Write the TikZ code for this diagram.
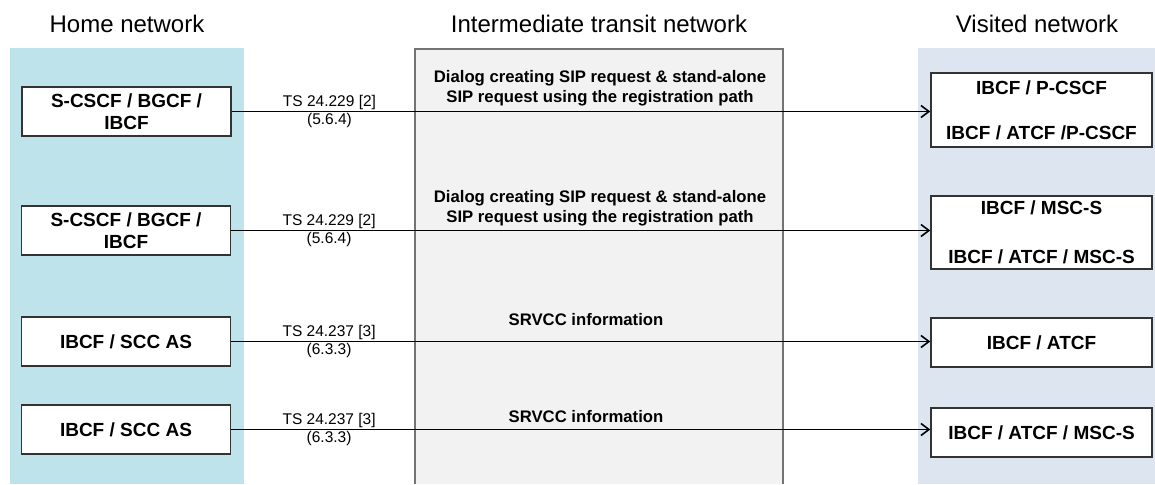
\documentclass[tikz,border=0pt]{standalone}
\usepackage{fontspec}
\setmainfont{Liberation Sans}
\usetikzlibrary{arrows.meta}

\definecolor{homeblue}{RGB}{190,227,235}
\definecolor{visitblue}{RGB}{221,229,240}
\definecolor{transgray}{RGB}{242,242,242}

\begin{document}
\begin{tikzpicture}[x=1pt,y=-1pt,>={Straight Barb[length=8pt,width=12pt]},
                line width=1.6pt,
                net node/.style={draw=black!80,line width=1.4pt,fill=white,align=center,
                  inner sep=0pt,font=\fontsize{19}{21.5}\selectfont\bfseries},
                home node/.style={net node,minimum width=209pt,minimum height=49pt},
                visit node/.style={net node,minimum width=221pt},
                spec label/.style={inner sep=1pt,font=\fontsize{15.5}{17}\selectfont},
                transit text/.style={align=center,inner sep=0pt,font=\fontsize{16.7}{20}\selectfont\bfseries},
                title node/.style={anchor=base,inner sep=0pt,font=\fontsize{24}{28}\selectfont}]

  \useasboundingbox (0,0) rectangle (1155,484);

  % network areas
  \fill[homeblue] (10,48) rectangle (244,484);
  \fill[visitblue] (918,48) rectangle (1155,484);
  \fill[transgray] (415,49) rectangle (783,484);
  \draw[black!55,line width=1.1pt] (415,484) -- (415,49) -- (783,49) -- (783,484);

  \node[title node] (home) at (127,33) {Home network};
  \node[title node] (transit) at (599,33) {Intermediate transit network};
  \node[title node] (visited) at (1037,33) {Visited network};

  % home network nodes
  \node[home node] (h1) at (126.5,111.5) {S-CSCF / BGCF /\\IBCF};
  \node[home node] (h2) at (126,230.5) {S-CSCF / BGCF /\\IBCF};
  \node[home node] (h3) at (126,341.5) {IBCF / SCC AS};
  \node[home node] (h4) at (126,429.5) {IBCF / SCC AS};

  % visited network nodes
  \node[visit node,minimum height=74pt] (v1) at (1041.5,110)
    {IBCF / P-CSCF\\[23.5pt]IBCF / ATCF /P-CSCF};
  \node[visit node,minimum height=73pt] (v2) at (1041.5,232.5)
    {IBCF / MSC-S\\[27.5pt]IBCF / ATCF / MSC-S};
  \node[visit node,minimum height=49pt] (v3) at (1041.5,342.5) {IBCF / ATCF};
  \node[visit node,minimum height=49pt] (v4) at (1041.5,432.5) {IBCF / ATCF / MSC-S};

  % what crosses the transit network
  \node[transit text,anchor=south] (t1) at (600,107)
    {Dialog creating SIP request \& stand-alone\\SIP request using the registration path};
  \node[transit text,anchor=south] (t2) at (600,227)
    {Dialog creating SIP request \& stand-alone\\SIP request using the registration path};
  \node[transit text,anchor=base] (t3) at (586,325) {SRVCC information};
  \node[transit text,anchor=base] (t4) at (586,422) {SRVCC information};

  \path[->]
    (h1) edge node[spec label,above,pos=.14] {TS 24.229 [2]}
              node[spec label,below,pos=.14] {(5.6.4)} (h1.east -| v1.west)
    (h2) edge node[spec label,above,pos=.14] {TS 24.229 [2]}
              node[spec label,below,pos=.14] {(5.6.4)} (h2.east -| v2.west)
    (h3) edge node[spec label,above,pos=.14] {TS 24.237 [3]}
              node[spec label,below,pos=.14] {(6.3.3)} (h3.east -| v3.west)
    (h4) edge node[spec label,above,pos=.14] {TS 24.237 [3]}
              node[spec label,below,pos=.14] {(6.3.3)} (h4.east -| v4.west);
\end{tikzpicture}
\end{document}
